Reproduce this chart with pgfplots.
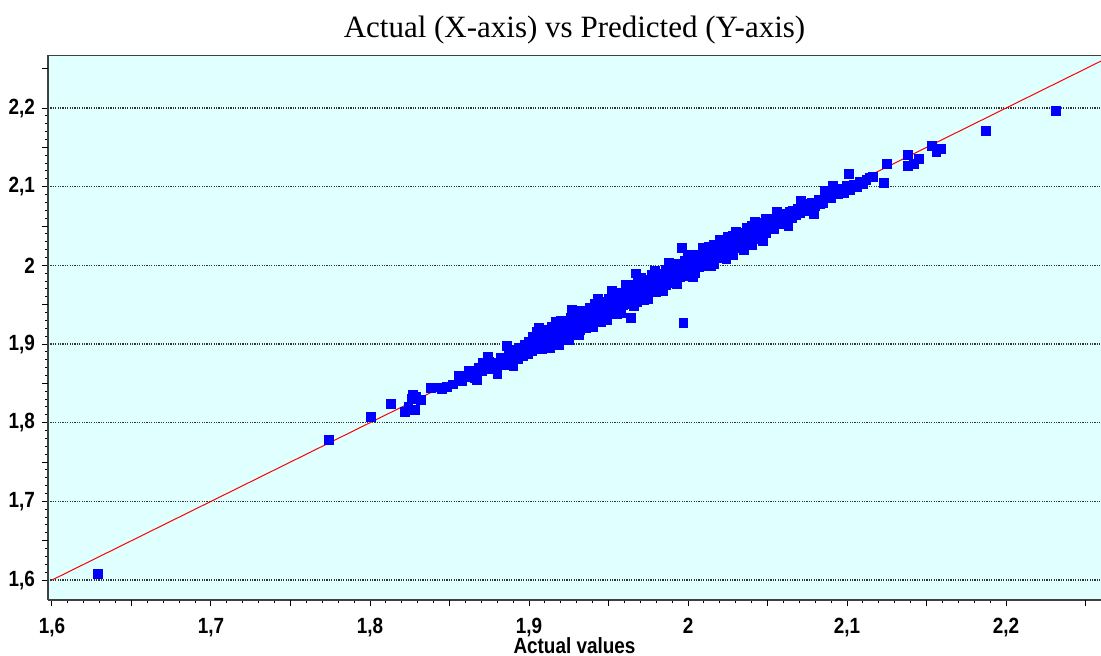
\documentclass[border=0pt]{standalone}
\usepackage{pgfplots}
\pgfplotsset{compat=1.18}
\usepackage{fontspec}
\setmainfont{Liberation Sans}
\newfontfamily\tickfont{Liberation Sans}[FakeStretch=0.86]
\newfontfamily\titlefont{Liberation Serif}
\definecolor{bgcyan}{RGB}{224,255,255}
\definecolor{axgray}{RGB}{64,64,64}
\begin{document}
\begin{tikzpicture}
\useasboundingbox (0,0) rectangle (550.5pt,327.5pt);
\begin{axis}[
  at={(24pt,27.5pt)}, anchor=south west,
  scale only axis, width=526.5pt, height=272.5pt,
  xmin=1.5975, xmax=2.2597, ymin=1.5746, ymax=2.2674,
  xtick={1.6,1.7,...,2.2}, ytick={1.6,1.7,...,2.2},
  minor x tick num=9, minor y tick num=9,
  extra x ticks={1.65,1.75,1.85,1.95,2.05,2.15,2.25},
  extra y ticks={1.65,1.75,1.85,1.95,2.05,2.15,2.25},
  extra x tick labels={}, extra y tick labels={},
  extra tick style={grid=none, major tick length=3pt},
  tick align=outside, major tick length=3pt, minor tick length=1.5pt,
  tick style={black, line width=0.5pt},
  axis x line*=bottom, axis y line*=left,
  axis line style={axgray, line width=1pt, -},
  ymajorgrids, grid style={black!80, line width=0.6pt, dash pattern=on 0.6pt off 0.6pt},
  axis background/.style={fill=bgcyan},
  /pgf/number format/.cd, use comma, assume math mode=true, /pgfplots/.cd,
  ticklabel style={font=\tickfont\bfseries\fontsize{11pt}{13pt}\selectfont},
  xticklabel style={yshift=-2.5pt},
  xlabel={Actual values},
  xlabel style={font=\tickfont\bfseries\fontsize{11pt}{13pt}\selectfont, at={(axis description cs:0.5,0)}, anchor=base, yshift=-26.5pt},
  title={Actual (X-axis) vs Predicted (Y-axis)},
  title style={font=\titlefont\fontsize{15.5pt}{17pt}\selectfont, at={(axis description cs:0.5,1)}, anchor=base, yshift=3pt},
  clip=true,
]
\draw[axgray, line width=1pt] (rel axis cs:0,1) -- (rel axis cs:1,1);
\addplot[only marks, mark=square*, mark size=2.2pt, mark options={fill=blue, draw=blue, line width=0.2pt}] table {
x y
1.629 1.608
1.774 1.778
1.8006 1.808
1.813 1.824
1.822 1.814
1.824 1.821
1.826 1.830
1.827 1.836
1.829 1.833
1.828 1.817
1.832 1.829
1.838 1.844
1.842 1.845
1.845 1.843
1.848 1.846
1.852 1.849
1.856 1.860
1.858 1.853
1.860 1.858
1.862 1.866
1.864 1.861
1.866 1.857
1.868 1.870
1.870 1.866
1.871 1.876
1.873 1.869
1.875 1.878
1.876 1.872
1.878 1.868
1.879 1.877
1.881 1.875
1.882 1.883
1.884 1.880
1.885 1.874
1.887 1.889
1.888 1.884
1.889 1.878
1.891 1.893
1.892 1.886
1.893 1.881
1.894 1.896
1.895 1.891
1.896 1.885
1.897 1.899
1.898 1.893
1.899 1.888
1.900 1.903
1.900 1.896
1.902 1.910
1.902 1.903
1.902 1.897
1.902 1.891
1.905 1.910
1.905 1.903
1.905 1.897
1.905 1.916
1.908 1.918
1.908 1.911
1.908 1.904
1.908 1.894
1.911 1.917
1.911 1.910
1.911 1.902
1.911 1.908
1.914 1.922
1.914 1.915
1.914 1.909
1.914 1.903
1.917 1.922
1.917 1.915
1.917 1.909
1.917 1.928
1.920 1.930
1.920 1.923
1.920 1.916
1.920 1.906
1.923 1.929
1.923 1.922
1.923 1.914
1.923 1.920
1.926 1.934
1.926 1.927
1.926 1.921
1.926 1.915
1.929 1.934
1.929 1.927
1.929 1.921
1.929 1.940
1.932 1.942
1.932 1.935
1.932 1.928
1.932 1.918
1.935 1.941
1.935 1.934
1.935 1.926
1.935 1.932
1.938 1.946
1.938 1.939
1.938 1.933
1.938 1.927
1.941 1.946
1.941 1.939
1.941 1.933
1.941 1.952
1.944 1.954
1.944 1.947
1.944 1.940
1.944 1.930
1.947 1.953
1.947 1.946
1.947 1.938
1.947 1.944
1.950 1.958
1.950 1.951
1.950 1.945
1.950 1.939
1.953 1.958
1.953 1.951
1.953 1.945
1.953 1.964
1.956 1.966
1.956 1.959
1.956 1.952
1.956 1.942
1.959 1.965
1.959 1.958
1.959 1.950
1.959 1.956
1.962 1.970
1.962 1.963
1.962 1.957
1.962 1.951
1.965 1.970
1.965 1.963
1.965 1.957
1.965 1.976
1.968 1.978
1.968 1.971
1.968 1.964
1.968 1.954
1.971 1.977
1.971 1.970
1.971 1.962
1.971 1.968
1.974 1.982
1.974 1.975
1.974 1.969
1.974 1.963
1.977 1.982
1.977 1.975
1.977 1.969
1.977 1.988
1.980 1.990
1.980 1.983
1.980 1.976
1.980 1.966
1.983 1.989
1.983 1.982
1.983 1.974
1.983 1.980
1.986 1.994
1.986 1.987
1.986 1.981
1.986 1.975
1.989 1.994
1.989 1.987
1.989 1.981
1.989 2.000
1.992 2.002
1.992 1.995
1.992 1.988
1.992 1.978
1.995 2.001
1.995 1.994
1.995 1.986
1.995 1.992
1.998 2.006
1.998 1.999
1.998 1.993
1.998 1.987
2.001 2.006
2.001 1.999
2.001 1.993
2.001 2.012
2.004 2.014
2.004 2.007
2.004 2.000
2.004 1.990
2.007 2.013
2.007 2.006
2.007 1.998
2.007 2.004
2.010 2.018
2.010 2.011
2.010 2.005
2.010 1.999
2.013 2.018
2.013 2.011
2.013 2.005
2.013 2.024
2.016 2.026
2.016 2.019
2.016 2.012
2.016 2.002
2.019 2.025
2.019 2.018
2.019 2.010
2.019 2.016
2.022 2.030
2.022 2.023
2.022 2.017
2.022 2.011
2.025 2.030
2.025 2.023
2.025 2.017
2.025 2.036
2.028 2.038
2.028 2.031
2.028 2.024
2.028 2.014
2.031 2.037
2.031 2.030
2.031 2.022
2.031 2.028
2.034 2.042
2.034 2.035
2.034 2.029
2.034 2.023
2.037 2.042
2.037 2.035
2.037 2.029
2.037 2.048
2.040 2.050
2.040 2.043
2.040 2.036
2.040 2.026
2.043 2.049
2.043 2.042
2.043 2.034
2.043 2.040
2.046 2.054
2.046 2.047
2.046 2.041
2.046 2.035
2.049 2.054
2.049 2.047
2.049 2.041
2.049 2.060
1.925 1.905
1.945 1.928
1.964 1.933
1.967 1.990
1.997 1.927
1.996 2.022
1.955 1.938
1.972 1.956
1.936 1.921
1.906 1.921
1.913 1.895
1.919 1.899
1.927 1.944
1.931 1.912
1.940 1.922
1.943 1.958
1.949 1.931
1.952 1.968
1.958 1.940
1.961 1.975
1.966 1.948
1.970 1.985
1.975 1.958
1.979 1.993
1.984 1.968
1.988 2.003
1.993 1.976
2.000 2.014
2.003 1.986
2.009 2.022
2.014 1.999
2.020 2.033
2.024 2.008
2.030 2.043
2.035 2.020
2.042 2.055
2.047 2.031
1.886 1.898
1.890 1.872
1.880 1.862
1.874 1.884
1.867 1.855
2.052 2.058
2.052 2.050
2.054 2.046
2.055 2.060
2.056 2.068
2.057 2.053
2.058 2.062
2.060 2.056
2.061 2.066
2.062 2.059
2.063 2.050
2.064 2.068
2.065 2.061
2.066 2.070
2.068 2.064
2.069 2.072
2.070 2.067
2.071 2.082
2.072 2.075
2.073 2.069
2.075 2.078
2.077 2.073
2.078 2.080
2.079 2.066
2.080 2.076
2.082 2.084
2.083 2.078
2.085 2.080
2.086 2.095
2.088 2.091
2.090 2.086
2.091 2.101
2.092 2.094
2.094 2.091
2.096 2.097
2.098 2.092
2.100 2.101
2.101 2.117
2.102 2.096
2.104 2.103
2.106 2.100
2.108 2.106
2.110 2.104
2.112 2.109
2.114 2.112
2.116 2.113
2.123 2.105
2.125 2.129
2.138 2.141
2.138 2.127
2.142 2.129
2.145 2.136
2.153 2.152
2.156 2.144
2.159 2.148
2.187 2.171
2.231 2.197
};
\addplot[red, line width=0.5pt] coordinates {(1.6,1.6) (2.27,2.27)};
\end{axis}
\end{tikzpicture}
\end{document}
